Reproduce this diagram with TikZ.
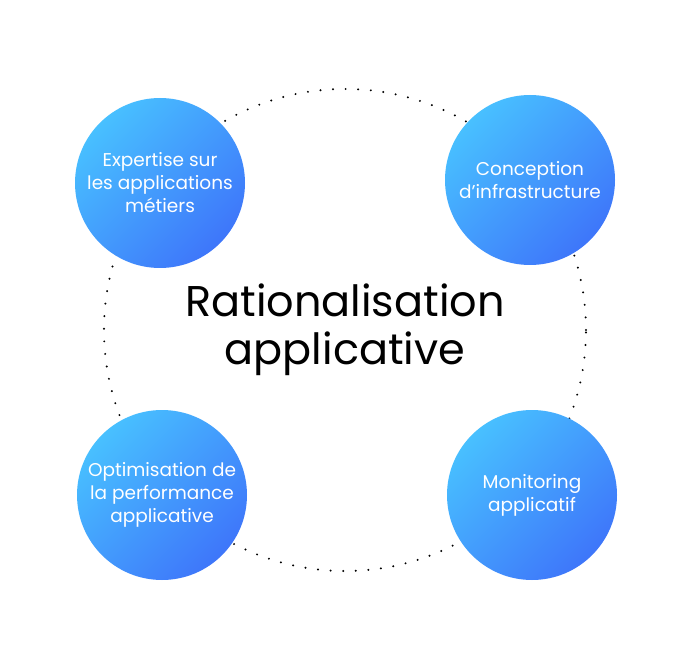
\documentclass[tikz,border=0pt]{standalone}
\usepackage{fontspec}
\setmainfont{Poppins}
\usetikzlibrary{positioning}
\definecolor{bluelight}{RGB}{72,192,255}
\definecolor{bluedark}{RGB}{62,118,250}

\begin{document}
\begin{tikzpicture}[x=1pt,y=-1pt,
  bubble/.style={circle, minimum size=170pt, inner sep=-5pt, align=center, text=white,
    font=\fontsize{18.5}{23}\selectfont, shading=axis, top color=bluelight,
    bottom color=bluedark, shading angle=45, draw=none},
  ring/.style={dash pattern=on 0pt off 12.6pt, line cap=round, line width=2.2pt},
  title/.style={align=center, font=\fontsize{43}{48}\selectfont, text=black}
]
\useasboundingbox (0,0) rectangle (691,663);

\node (c)[title] at (345,330) {Rationalisation\\applicative};
\draw[ring] (c.center) circle [radius=241pt];

\node (s0)[bubble] at (160,183) {Expertise sur\\les applications\\métiers};
\node (s1)[bubble] at (530,180) {Conception\\d’infrastructure};
\node (s2)[bubble] at (162,495) {Optimisation de\\la performance\\applicative};
\node (s3)[bubble] at (532,495) {Monitoring\\applicatif};
\end{tikzpicture}
\end{document}
